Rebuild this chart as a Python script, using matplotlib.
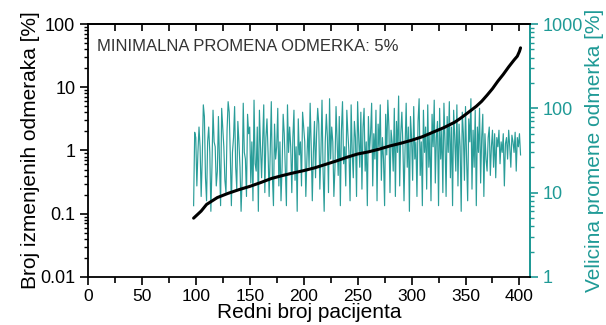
import matplotlib
matplotlib.use("Agg")
import matplotlib.pyplot as plt
from matplotlib.ticker import LogLocator, NullFormatter, FixedLocator

plt.rcParams['font.family'] = ['Liberation Sans', 'DejaVu Sans']

# black curve: fraction of changed samples (left axis)
pat_black = [98, 105, 110, 120, 130, 140, 150, 160, 170, 180, 190, 200, 210, 220,
             230, 240, 250, 260, 270, 280, 290, 300, 310, 320, 330, 340, 345, 350,
             355, 360, 365, 370, 375, 380, 385, 390, 395, 398, 400, 401]
broj = [0.085, 0.11, 0.14, 0.18, 0.21, 0.24, 0.27, 0.31, 0.36, 0.40, 0.44, 0.48,
        0.53, 0.60, 0.68, 0.78, 0.88, 0.95, 1.05, 1.18, 1.30, 1.45, 1.65, 1.95,
        2.3, 2.8, 3.2, 3.7, 4.3, 5.0, 6.0, 7.5, 9.5, 12.5, 16, 21, 27, 31, 37, 42]

# teal curve: magnitude of change (right axis), patients 98..401
velicina = [
    7, 52, 45, 12, 30, 60, 35, 9, 25, 110, 80, 15, 8, 40, 60, 30, 6, 20, 95, 40,
    35, 12, 18, 80, 25, 7, 100, 60, 35, 14, 10, 55, 120, 90, 28, 7, 30, 45, 105, 20,
    11, 70, 40, 20, 6, 15, 115, 30, 25, 9, 85, 50, 60, 13, 40, 8, 125, 22, 18, 60,
    6, 95, 35, 15, 40, 110, 10, 45, 75, 30, 9, 30, 120, 16, 7, 65, 25, 35, 100, 12,
    40, 8, 20, 85, 50, 18, 7, 110, 30, 60, 35, 10, 45, 95, 14, 35, 6, 75, 28, 40,
    12, 90, 60, 40, 9, 25, 60, 20, 115, 35, 8, 30, 70, 15, 50, 100, 65, 11, 30, 125,
    18, 6, 40, 85, 45, 10, 130, 25, 60, 40, 9, 20, 105, 40, 16, 80, 7, 55, 120, 22,
    35, 12, 95, 50, 30, 8, 110, 30, 15, 70, 45, 9, 120, 45, 20, 90, 11, 60, 100, 18,
    40, 7, 80, 30, 50, 115, 12, 50, 25, 95, 8, 65, 35, 110, 14, 45, 25, 7, 85, 28,
    125, 60, 10, 55, 40, 18, 100, 9, 70, 30, 140, 12, 50, 90, 35, 8, 35, 115, 20, 60,
    6, 80, 45, 14, 105, 25, 40, 9, 70, 130, 16, 40, 7, 95, 30, 60, 11, 110, 20, 50,
    8, 85, 35, 125, 13, 45, 70, 7, 100, 25, 55, 10, 115, 40, 9, 80, 30, 120, 15, 60,
    7, 95, 45, 18, 110, 12, 65, 35, 6, 90, 50, 14, 105, 25, 8, 75, 40, 130, 11, 55,
    20, 95, 7, 60, 30, 100, 13, 45, 85, 9, 50, 25, 18, 45, 60, 16, 35, 55, 20, 50,
    15, 45, 35, 55, 22, 40, 30, 50, 12, 38, 45, 25, 55, 35, 20, 48, 40, 30, 52, 18,
    45, 35, 50, 28,
]
pat_teal = list(range(98, 98 + len(velicina)))

x_ticks = [0, 50, 100, 150, 200, 250, 300, 350, 400]
left_ticks = [0.01, 0.1, 1, 10, 100]
left_labels = ['0.01', '0.1', '1', '10', '100']
right_ticks = [1, 10, 100, 1000]
right_labels = ['1', '10', '100', '1000']

TEAL = '#1f9a96'

fig = plt.figure(figsize=(6.06, 3.25), dpi=100)
ax = fig.add_axes([0.145, 0.148, 0.73, 0.778])
ax2 = ax.twinx()

ax2.plot(pat_teal, velicina, color='#2a9d99', lw=0.85)
ax.plot(pat_black, broj, color='black', lw=2.2, solid_capstyle='round')

ax.set_zorder(ax2.get_zorder() + 1)
ax.patch.set_visible(False)

ax.set_xlim(0, 410)
ax.set_yscale('log')
ax.set_ylim(0.01, 100)
ax2.set_yscale('log')
ax2.set_ylim(1, 1000)

ax.set_xticks(x_ticks)
ax.set_xticklabels([str(v) for v in x_ticks])
ax.xaxis.set_minor_locator(FixedLocator([25, 75, 125, 175, 225, 275, 325, 375]))
ax.set_yticks(left_ticks)
ax.set_yticklabels(left_labels)
ax.yaxis.set_minor_locator(LogLocator(base=10, subs=range(2, 10)))
ax.yaxis.set_minor_formatter(NullFormatter())
ax2.set_yticks(right_ticks)
ax2.set_yticklabels(right_labels)
ax2.yaxis.set_minor_locator(LogLocator(base=10, subs=range(2, 10)))
ax2.yaxis.set_minor_formatter(NullFormatter())

ax.tick_params(axis='x', which='major', direction='out', length=6, width=1.2,
               labelsize=12.5, pad=2.5, top=False)
ax.tick_params(axis='x', which='minor', direction='out', length=4, width=1.2, top=False)
ax.tick_params(axis='y', which='major', direction='out', length=6, width=1.2,
               labelsize=13, pad=3, right=False)
ax.tick_params(axis='y', which='minor', direction='out', length=3, width=1.0, right=False)
ax2.tick_params(axis='y', which='major', direction='out', length=6, width=1.2,
                labelsize=13, pad=3, colors=TEAL)
ax2.tick_params(axis='y', which='minor', direction='out', length=3, width=1.0, colors=TEAL)

# top ticks pointing inward
top = ax.secondary_xaxis('top')
top.set_xticks([25, 50, 75, 100, 125, 150, 175, 200, 225, 250, 275, 300, 325, 350, 375, 400])
top.tick_params(direction='in', length=5, width=1.2, labeltop=False)
top.set_xticklabels([])
top.spines['top'].set_linewidth(1.3)

for s in ['left', 'bottom', 'top']:
    ax.spines[s].set_linewidth(1.3)
ax.spines['right'].set_color(TEAL)
ax.spines['right'].set_linewidth(1.3)
ax2.spines['right'].set_color(TEAL)
ax2.spines['right'].set_linewidth(1.3)
for s in ['left', 'bottom', 'top']:
    ax2.spines[s].set_visible(False)

ax.set_xlabel('Redni broj pacijenta', fontsize=15)
ax.xaxis.set_label_coords(0.5, -0.102)
ax.set_ylabel('Broj izmenjenih odmeraka [%]', fontsize=15, labelpad=0)
ax2.set_ylabel('Velicina promene odmerka [%]', fontsize=15, color=TEAL, labelpad=1)

ax.text(0.02, 0.91, 'MINIMALNA PROMENA ODMERKA: 5%', transform=ax.transAxes,
        fontsize=12, color='#333333', va='center', ha='left')

fig.savefig('out.png', dpi=100)
